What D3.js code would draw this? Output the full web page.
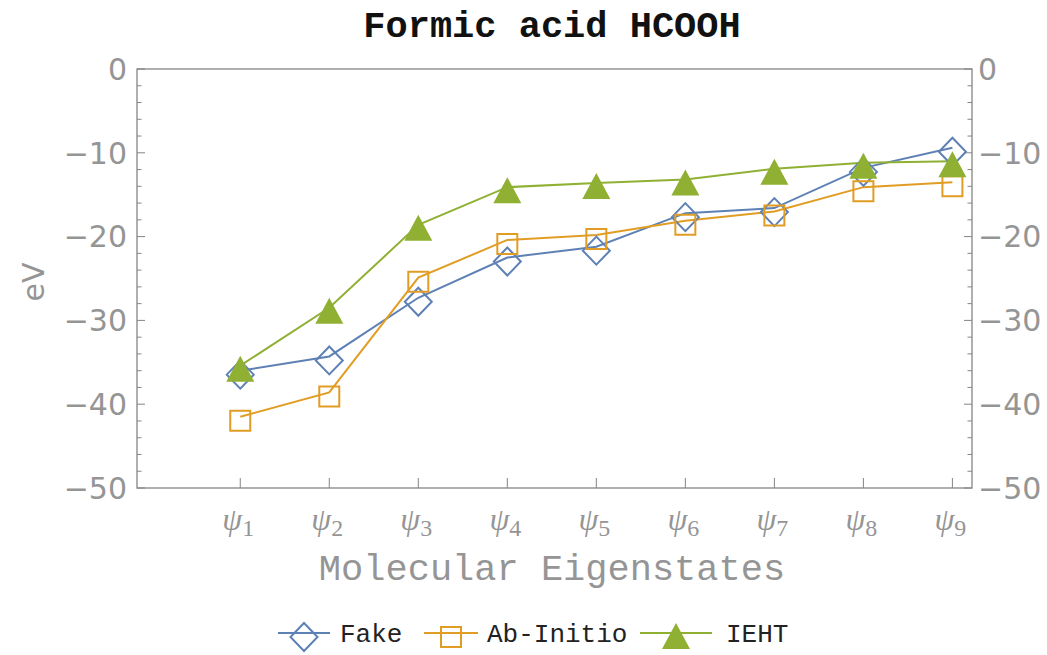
<!DOCTYPE html>
<html><head><meta charset="utf-8">
<script src="https://cdn.jsdelivr.net/npm/d3@7"></script>
<style>html,body{margin:0;padding:0;background:#fff;}svg{display:block;}</style>
</head><body>
<svg id="chart" width="1047" height="655"></svg>
<script>
const categories = ["1","2","3","4","5","6","7","8","9"];
const fakeValues = [-36.0, -34.3, -27.3, -22.5, -21.2, -17.2, -16.6, -11.8, -9.4];
const abInitioValues = [-41.5, -38.6, -24.9, -20.4, -19.8, -18.1, -17.0, -14.1, -13.5];
const iehtValues = [-35.4, -28.5, -18.6, -14.1, -13.6, -13.2, -11.9, -11.2, -11.0];
const yTicks = [0, -10, -20, -30, -40, -50];
const seriesNames = ["Fake", "Ab-Initio", "IEHT"];

const series = [
  {name: seriesNames[0], values: fakeValues, color: "#5E81B5", marker: "diamond"},
  {name: seriesNames[1], values: abInitioValues, color: "#E19C24", marker: "square"},
  {name: seriesNames[2], values: iehtValues, color: "#8FB032", marker: "triangle"}
];

const svg = d3.select("#chart");
const L = 137, R = 972, T = 69, B = 488;
const x = d3.scaleLinear().domain([-0.16, 9.22]).range([L, R]);
const y = d3.scaleLinear().domain([-50, 0]).range([B, T]);
const gray = "#858585";
const labelGray = "#959595";

function markerPath(type) {
  if (type === "diamond") return "M0,-14L13.5,0L0,14L-13.5,0Z";
  if (type === "square") return "M-10,-10H10V10H-10Z";
  return "M0,-14L14,12L-14,12Z";
}

// frame
svg.append("rect").attr("x", L).attr("y", T).attr("width", R - L).attr("height", B - T)
  .attr("fill", "none").attr("stroke", gray).attr("stroke-width", 1.3);

// left & right ticks
const minor = d3.range(-50, 0.1, 2);
minor.forEach(v => {
  const major = v % 10 === 0;
  const len = major ? 8 : 4.5;
  svg.append("line").attr("x1", L).attr("x2", L + len).attr("y1", y(v)).attr("y2", y(v))
    .attr("stroke", gray).attr("stroke-width", 1);
  svg.append("line").attr("x1", R).attr("x2", R - len).attr("y1", y(v)).attr("y2", y(v))
    .attr("stroke", gray).attr("stroke-width", 1);
});
// bottom ticks
categories.forEach((c, i) => {
  svg.append("line").attr("x1", x(i + 1)).attr("x2", x(i + 1)).attr("y1", B).attr("y2", B - 10)
    .attr("stroke", gray).attr("stroke-width", 1);
});

// y tick labels
const fmt = v => v === 0 ? "0" : "\u2212" + Math.abs(v);
yTicks.forEach(v => {
  svg.append("text").attr("x", L - 10).attr("y", y(v)).attr("dy", "0.36em")
    .attr("text-anchor", "end").attr("font-family", "DejaVu Sans").attr("font-size", 30)
    .attr("fill", labelGray).text(fmt(v));
  svg.append("text").attr("x", R + 6).attr("y", y(v)).attr("dy", "0.36em")
    .attr("text-anchor", "start").attr("font-family", "DejaVu Sans").attr("font-size", 30)
    .attr("fill", labelGray).text(fmt(v));
});

// x tick labels
categories.forEach((c, i) => {
  const t = svg.append("text").attr("x", x(i + 1) - 2).attr("y", 530).attr("text-anchor", "middle")
    .attr("fill", labelGray).attr("font-family", "Liberation Serif");
  t.append("tspan").attr("font-style", "italic").attr("font-size", 32).text("\u03C8");
  t.append("tspan").attr("font-size", 24).attr("dy", 6).text(c);
});

// axis titles
svg.append("text").attr("x", (357 + 747) / 2).attr("y", 37).attr("text-anchor", "middle")
  .attr("font-family", "Liberation Mono").attr("font-weight", "bold").attr("font-size", 37)
  .attr("fill", "#111").text("Formic acid HCOOH");
svg.append("text").attr("x", 552).attr("y", 580).attr("text-anchor", "middle")
  .attr("font-family", "Liberation Mono").attr("font-size", 37)
  .attr("fill", labelGray).text("Molecular Eigenstates");
svg.append("text").attr("transform", "translate(44,282) rotate(-90)").attr("text-anchor", "middle")
  .attr("font-family", "DejaVu Sans").attr("font-size", 30)
  .attr("fill", labelGray).text("eV");

// lines
const line = d3.line().x((d, i) => x(i + 1)).y(d => y(d));
series.forEach(s => {
  svg.append("path").attr("d", line(s.values)).attr("fill", "none")
    .attr("stroke", s.color).attr("stroke-width", 2);
});
// markers
const mOff = 4;
series.forEach(s => {
  svg.selectAll(null).data(s.values).enter().append("path")
    .attr("transform", (d, i) => `translate(${x(i + 1)},${y(d) + mOff})`)
    .attr("d", markerPath(s.marker))
    .attr("fill", s.marker === "triangle" ? s.color : "none")
    .attr("stroke", s.marker === "triangle" ? "none" : s.color)
    .attr("stroke-width", 2);
});

// legend
const legendItems = [
  {s: series[0], lx: 278, lw: 52, tx: 340},
  {s: series[1], lx: 424, lw: 54, tx: 487},
  {s: series[2], lx: 640, lw: 72, tx: 726}
];
const ly = 633;
legendItems.forEach(it => {
  svg.append("line").attr("x1", it.lx).attr("x2", it.lx + it.lw).attr("y1", ly).attr("y2", ly)
    .attr("stroke", it.s.color).attr("stroke-width", 2);
  svg.append("path").attr("transform", `translate(${it.lx + it.lw / 2},${ly + mOff})`)
    .attr("d", markerPath(it.s.marker))
    .attr("fill", it.s.marker === "triangle" ? it.s.color : "none")
    .attr("stroke", it.s.marker === "triangle" ? "none" : it.s.color)
    .attr("stroke-width", 2);
  svg.append("text").attr("x", it.tx).attr("y", ly).attr("dy", "0.35em")
    .attr("font-family", "Liberation Mono").attr("font-size", 26).attr("fill", "#222")
    .text(it.s.name);
});
</script>
</body></html>
